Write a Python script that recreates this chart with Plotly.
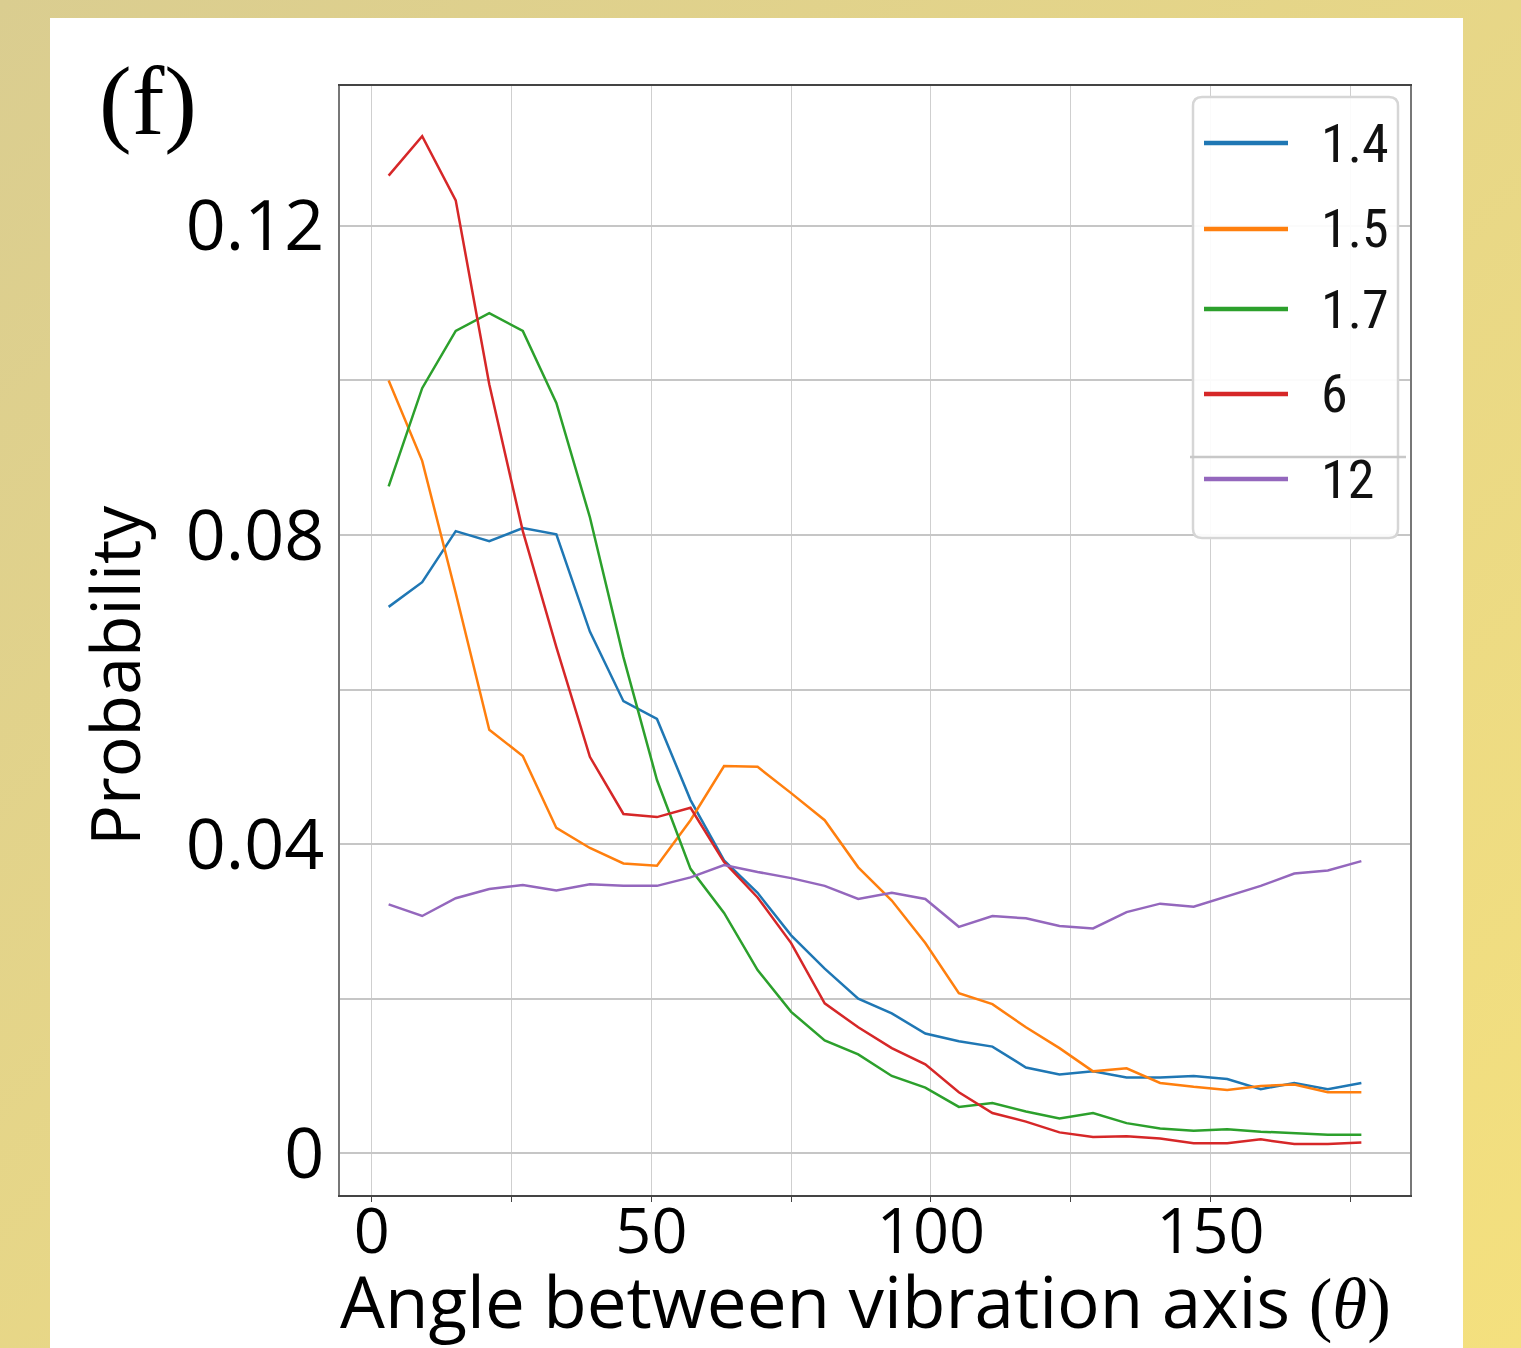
import base64
import plotly.graph_objects as go

# ---------------- data ----------------
angles = [3, 9, 15, 21, 27, 33, 39, 45, 51, 57, 63, 69, 75, 81, 87,
          93, 99, 105, 111, 117, 123, 129, 135, 141, 147, 153, 159, 165, 171, 177]

series_names = ["1.4", "1.5", "1.7", "6", "12"]

p_14 = [0.0707, 0.0739, 0.0805, 0.0792, 0.0809, 0.0801, 0.0675, 0.0585, 0.0562, 0.0457,
        0.0379, 0.0337, 0.0282, 0.0239, 0.0200, 0.0181, 0.0155, 0.0145, 0.0138, 0.0111,
        0.0102, 0.0106, 0.0098, 0.0098, 0.0100, 0.0096, 0.0083, 0.0091, 0.0083, 0.0091]
p_15 = [0.1000, 0.0896, 0.0725, 0.0548, 0.0514, 0.0421, 0.0395, 0.0375, 0.0372, 0.0431,
        0.0501, 0.0500, 0.0466, 0.0431, 0.0370, 0.0327, 0.0272, 0.0207, 0.0193, 0.0163,
        0.0136, 0.0106, 0.0110, 0.0091, 0.0086, 0.0082, 0.0087, 0.0089, 0.0079, 0.0079]
p_17 = [0.0863, 0.0990, 0.1064, 0.1087, 0.1064, 0.0971, 0.0823, 0.0642, 0.0483, 0.0368,
        0.0311, 0.0237, 0.0183, 0.0146, 0.0128, 0.0100, 0.0085, 0.0060, 0.0065, 0.0054,
        0.0045, 0.0052, 0.0039, 0.0032, 0.0029, 0.0031, 0.0028, 0.0026, 0.0024, 0.0024]
p_6 = [0.1265, 0.1316, 0.1233, 0.0995, 0.0805, 0.0655, 0.0513, 0.0439, 0.0435, 0.0447,
       0.0377, 0.0331, 0.0272, 0.0194, 0.0163, 0.0136, 0.0115, 0.0079, 0.0052, 0.0041,
       0.0027, 0.0021, 0.0022, 0.0019, 0.0013, 0.0013, 0.0018, 0.0012, 0.0012, 0.0014]
p_12 = [0.0322, 0.0307, 0.0330, 0.0342, 0.0347, 0.0340, 0.0348, 0.0346, 0.0346, 0.0357,
        0.0373, 0.0364, 0.0356, 0.0346, 0.0329, 0.0337, 0.0329, 0.0293, 0.0307, 0.0304,
        0.0294, 0.0291, 0.0312, 0.0323, 0.0319, 0.0333, 0.0346, 0.0362, 0.0366, 0.0378]

x_tickvals = [0, 25, 50, 75, 100, 125, 150, 175]
x_ticktext = ["0", "", "50", "", "100", "", "150", ""]
y_tickvals = [0, 0.02, 0.04, 0.06, 0.08, 0.10, 0.12]
y_ticktext = ["0", "", "0.04", "", "0.08", "", "0.12"]

colors = ["#1f77b4", "#ff7f0e", "#2ca02c", "#d62728", "#9467bd"]
values = [p_14, p_15, p_17, p_6, p_12]

# ---------------- geometry ----------------
W, H = 1521, 1348
L, R, T, B = 340, 1410, 86, 1195


def px_x(p):
    return (p - L) / (R - L)


def px_y(p):
    return (B - p) / (B - T)


fig = go.Figure()
for name, vals, col in zip(series_names, values, colors):
    fig.add_trace(go.Scatter(x=angles, y=vals, mode="lines", name=name,
                             line=dict(color=col, width=2.5), showlegend=False))

# background gradient (outer yellow frame)
svg = ('<svg xmlns="http://www.w3.org/2000/svg" width="1521" height="1348">'
       '<defs><linearGradient id="g" x1="0" y1="0" x2="1" y2="1">'
       '<stop offset="0" stop-color="#dacd90"/><stop offset="1" stop-color="#f4e07e"/>'
       '</linearGradient></defs><rect width="1521" height="1348" fill="url(#g)"/></svg>')
src = "data:image/svg+xml;base64," + base64.b64encode(svg.encode()).decode()
fig.add_layout_image(dict(source=src, xref="paper", yref="paper",
                          x=px_x(0), y=px_y(0), sizex=W / (R - L), sizey=H / (B - T),
                          xanchor="left", yanchor="top", sizing="stretch", layer="below"))

shapes = []
# white panel
shapes.append(dict(type="rect", xref="paper", yref="paper", layer="below",
                   x0=px_x(50), x1=px_x(1463), y0=px_y(18), y1=px_y(1360),
                   fillcolor="white", line=dict(width=0)))

# legend box (rounded)
lx0, lx1, ly0, ly1, rr = 1193, 1398, 97, 538, 9
path = (f"M {px_x(lx0 + rr)} {px_y(ly0)} L {px_x(lx1 - rr)} {px_y(ly0)} "
        f"Q {px_x(lx1)} {px_y(ly0)} {px_x(lx1)} {px_y(ly0 + rr)} "
        f"L {px_x(lx1)} {px_y(ly1 - rr)} Q {px_x(lx1)} {px_y(ly1)} {px_x(lx1 - rr)} {px_y(ly1)} "
        f"L {px_x(lx0 + rr)} {px_y(ly1)} Q {px_x(lx0)} {px_y(ly1)} {px_x(lx0)} {px_y(ly1 - rr)} "
        f"L {px_x(lx0)} {px_y(ly0 + rr)} Q {px_x(lx0)} {px_y(ly0)} {px_x(lx0 + rr)} {px_y(ly0)} Z")
shapes.append(dict(type="path", xref="paper", yref="paper", path=path, layer="above",
                   fillcolor="rgba(255,255,255,0.92)", line=dict(color="#d6d6d6", width=2.5)))
# faint horizontal artefact line through legend
shapes.append(dict(type="line", xref="paper", yref="paper", layer="above",
                   x0=px_x(1190), x1=px_x(1406), y0=px_y(457), y1=px_y(457),
                   line=dict(color="#c8c8c8", width=2.5)))

annotations = []
leg_y = [143, 229, 309, 394, 479]
for name, col, yy in zip(series_names, colors, leg_y):
    shapes.append(dict(type="line", xref="paper", yref="paper", layer="above",
                       x0=px_x(1204), x1=px_x(1288), y0=px_y(yy), y1=px_y(yy),
                       line=dict(color=col, width=4.5)))
    annotations.append(dict(xref="paper", yref="paper", x=px_x(1319), y=px_y(yy),
                            text=name, showarrow=False, xanchor="left", yanchor="middle",
                            font=dict(family="Liberation Sans Narrow, Roboto Condensed, Roboto",
                                      size=54, color="#111111")))

# axis titles
annotations.append(dict(xref="paper", yref="paper", x=px_x(865), y=px_y(1301),
                        xanchor="center", yanchor="middle", showarrow=False,
                        text=("Angle between vibration axis "
                              "<span style='font-family:\"Liberation Serif\"'>(<i>θ</i>)</span>"),
                        font=dict(family="Open Sans", size=71, color="black")))
annotations.append(dict(xref="paper", yref="paper", x=px_x(113), y=px_y(676),
                        xanchor="center", yanchor="middle", showarrow=False, textangle=-90,
                        text="Probability", font=dict(family="Open Sans", size=68, color="black")))
# panel label
annotations.append(dict(xref="paper", yref="paper", x=px_x(148), y=px_y(101),
                        xanchor="center", yanchor="middle", showarrow=False,
                        text="(f)", font=dict(family="Liberation Serif", size=98, color="black")))

fig.update_layout(
    width=W, height=H,
    margin=dict(l=L, r=W - R, t=T, b=H - B, pad=0),
    paper_bgcolor="#e6d688", plot_bgcolor="white",
    shapes=shapes, annotations=annotations, showlegend=False,
    xaxis=dict(range=[-5.7, 185.7], tickvals=x_tickvals, ticktext=x_ticktext,
               showgrid=True, gridcolor="#cfcfcf", gridwidth=1.3, zeroline=False,
               showline=True, linecolor="#444444", linewidth=2, mirror=True,
               ticks="outside", ticklen=5, tickcolor="#444444", ticklabelstandoff=-25,
               tickfont=dict(family="Open Sans", size=63, color="black")),
    yaxis=dict(range=[-0.0054, 0.1381], tickvals=y_tickvals, ticktext=y_ticktext,
               showgrid=True, gridcolor="#c6c6c6", gridwidth=1.5, zeroline=False,
               showline=True, linecolor="#777777", linewidth=1.5, mirror=True,
               ticks="", ticklabelstandoff=0,
               tickfont=dict(family="Open Sans", size=70, color="black")),
)

fig.write_html("out.html")
